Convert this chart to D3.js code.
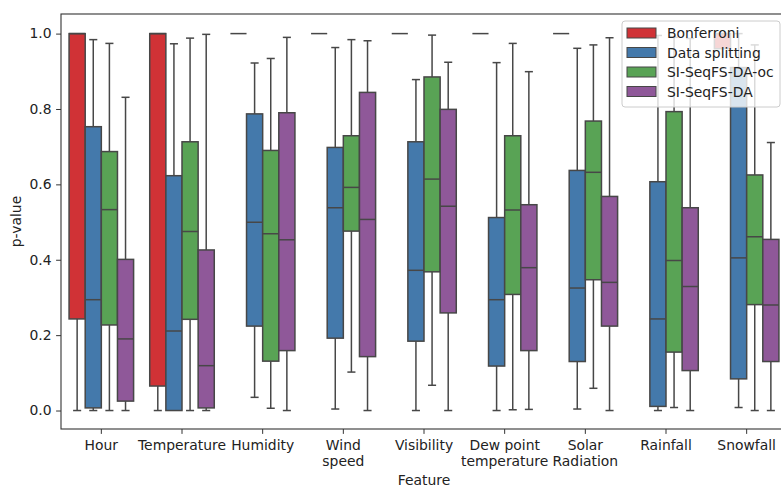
<!DOCTYPE html>
<html>
<head>
<meta charset="utf-8">
<script src="https://cdn.jsdelivr.net/npm/d3@7"></script>
<style>
  body { margin: 0; background: #fff; }
  svg { display: block; font-family: "DejaVu Sans", sans-serif; }
</style>
</head>
<body>
<div id="chart"></div>
<script>
// features on the x axis, methods as hue
const features = ["Hour", "Temperature", "Humidity", "Wind\nspeed", "Visibility",
  "Dew point\ntemperature", "Solar\nRadiation", "Rainfall", "Snowfall"];
const methods = ["Bonferroni", "Data splitting", "SI-SeqFS-DA-oc", "SI-SeqFS-DA"];
const colors = ["#d03236", "#4479ab", "#59a355", "#8f5899"];

// [whisker low, q1, median, q3, whisker high] per feature
const bonferroni = [
  [0, 0.243, 1, 1, 1], [0, 0.065, 1, 1, 1], [1, 1, 1, 1, 1],
  [1, 1, 1, 1, 1], [1, 1, 1, 1, 1], [1, 1, 1, 1, 1],
  [1, 1, 1, 1, 1], [1, 1, 1, 1, 1], [0.96, 0.96, 1, 1, 1]
];
const dataSplitting = [
  [0, 0.007, 0.294, 0.753, 0.984], [0, 0, 0.211, 0.623, 0.973],
  [0.035, 0.224, 0.4995, 0.787, 0.922], [0.004, 0.192, 0.538, 0.698, 0.963],
  [0, 0.184, 0.372, 0.713, 0.878], [0, 0.118, 0.294, 0.512, 0.923],
  [0.004, 0.130, 0.325, 0.637, 0.961], [0, 0.011, 0.243, 0.607, 0.995],
  [0.008, 0.084, 0.405, 0.91, 1.0]
];
const seqfsOc = [
  [0, 0.227, 0.533, 0.687, 0.974], [0, 0.242, 0.475, 0.713, 0.988],
  [0.006, 0.131, 0.469, 0.690, 0.934], [0.102, 0.476, 0.592, 0.729, 0.984],
  [0.067, 0.368, 0.614, 0.885, 0.996], [0.002, 0.308, 0.532, 0.729, 0.974],
  [0.059, 0.347, 0.632, 0.768, 0.970], [0.008, 0.155, 0.398, 0.793, 0.99],
  [0, 0.281, 0.461, 0.625, 0.97]
];
const seqfsDa = [
  [0, 0.025, 0.190, 0.401, 0.831], [0, 0.007, 0.119, 0.426, 0.998],
  [0, 0.159, 0.453, 0.790, 0.990], [0, 0.143, 0.507, 0.844, 0.981],
  [0, 0.259, 0.542, 0.799, 0.924], [0.003, 0.159, 0.379, 0.546, 0.899],
  [0, 0.224, 0.340, 0.568, 0.989], [0, 0.106, 0.329, 0.538, 0.987],
  [0, 0.130, 0.280, 0.454, 0.711]
];
const yTicks = [0, 0.2, 0.4, 0.6, 0.8, 1.0];

const series = [bonferroni, dataSplitting, seqfsOc, seqfsDa];

const width = 781, height = 489;
const margin = { top: 14, right: -6, bottom: 60, left: 61 };
const innerWidth = width - margin.left - margin.right;
const innerHeight = height - margin.top - margin.bottom;
const fs = 13.9;

const svg = d3.select("#chart").append("svg")
  .attr("width", width).attr("height", height);

svg.append("defs").append("clipPath").attr("id", "plotclip")
  .append("rect").attr("width", innerWidth).attr("height", innerHeight);

const g = svg.append("g").attr("transform", `translate(${margin.left},${margin.top})`);

const x = d3.scaleBand().domain(features).range([0, innerWidth]);
const hue = d3.scaleBand().domain(methods).range([0.1 * x.bandwidth(), 0.9 * x.bandwidth()]);
const y = d3.scaleLinear().domain([-0.049, 1.052]).range([innerHeight, 0]);

const edge = "#474747";
const plot = g.append("g").attr("clip-path", "url(#plotclip)");

const rows = [];
series.forEach((arr, mi) => arr.forEach((s, fi) => rows.push({ f: features[fi], m: methods[mi], mi, s })));

const box = plot.selectAll("g.box").data(rows).join("g").attr("class", "box")
  .attr("transform", d => `translate(${x(d.f) + hue(d.m)},0)`);
const bw = hue.bandwidth();

// whiskers
box.append("line").attr("x1", bw / 2).attr("x2", bw / 2)
  .attr("y1", d => y(d.s[0])).attr("y2", d => y(d.s[1]))
  .attr("stroke", edge).attr("stroke-width", 1.5);
box.append("line").attr("x1", bw / 2).attr("x2", bw / 2)
  .attr("y1", d => y(d.s[3])).attr("y2", d => y(d.s[4]))
  .attr("stroke", edge).attr("stroke-width", 1.5);
// caps
[0, 4].forEach(k => {
  box.filter(d => d.s[k] !== d.s[k === 0 ? 1 : 3])
    .append("line").attr("x1", bw / 4).attr("x2", bw * 3 / 4)
    .attr("y1", d => y(d.s[k])).attr("y2", d => y(d.s[k]))
    .attr("stroke", edge).attr("stroke-width", 1.5);
});
// boxes
box.append("rect").attr("x", 0).attr("width", bw)
  .attr("y", d => y(d.s[3])).attr("height", d => y(d.s[1]) - y(d.s[3]))
  .attr("fill", d => colors[d.mi]).attr("stroke", edge).attr("stroke-width", 1.5);
// medians
box.append("line").attr("x1", 0).attr("x2", bw)
  .attr("y1", d => y(d.s[2])).attr("y2", d => y(d.s[2]))
  .attr("stroke", edge).attr("stroke-width", 1.5);

// axes (tick marks only, labels drawn separately)
const yAxis = g.append("g").call(d3.axisLeft(y).tickValues(yTicks).tickSize(4.9));
const xAxis = g.append("g").attr("transform", `translate(0,${innerHeight})`)
  .call(d3.axisBottom(x).tickSize(4.9));
[yAxis, xAxis].forEach(a => {
  a.select(".domain").remove();
  a.selectAll(".tick text").remove();
  a.selectAll("line").attr("stroke", "#333").attr("stroke-width", 1);
});

const labels = svg.append("g").attr("font-family", "DejaVu Sans").attr("font-size", fs).attr("fill", "#222");

labels.selectAll("text.ylab").data(yTicks).join("text").attr("class", "ylab")
  .attr("x", margin.left - 9.5).attr("y", d => margin.top + y(d)).attr("dy", "0.35em")
  .attr("text-anchor", "end").text(d3.format(".1f"));

const xl = [];
features.forEach(f => f.split("\n").forEach((line, i) => xl.push({ f, line, i })));
labels.selectAll("text.xlab").data(xl).join("text").attr("class", "xlab")
  .attr("x", d => margin.left + x(d.f) + x.bandwidth() / 2)
  .attr("y", d => margin.top + innerHeight + 20.5 + d.i * 16)
  .attr("text-anchor", "middle").text(d => d.line);

// spines
g.append("rect").attr("width", innerWidth).attr("height", innerHeight)
  .attr("fill", "none").attr("stroke", "#333").attr("stroke-width", 1.1);

// axis labels
labels.append("text").attr("transform", `translate(21,${margin.top + innerHeight / 2}) rotate(-90)`)
  .attr("text-anchor", "middle").text("p-value");
labels.append("text").attr("x", margin.left + innerWidth / 2).attr("y", 485)
  .attr("text-anchor", "middle").text("Feature");

// legend
const legend = svg.append("g").attr("transform", "translate(622,21)");
legend.append("rect").attr("width", 158).attr("height", 86).attr("rx", 3)
  .attr("fill", "white").attr("fill-opacity", 0.8).attr("stroke", "#ccc");
const item = legend.selectAll("g.item").data(methods).join("g").attr("class", "item")
  .attr("transform", (d, i) => `translate(0,${12 + i * 19.5})`);
item.append("rect").attr("x", 5).attr("y", -5).attr("width", 29).attr("height", 10)
  .attr("fill", (d, i) => colors[i]).attr("stroke", edge).attr("stroke-width", 1);
item.append("text").attr("x", 45).attr("y", 5).attr("font-size", fs).attr("fill", "#222").text(d => d);
</script>
</body>
</html>
